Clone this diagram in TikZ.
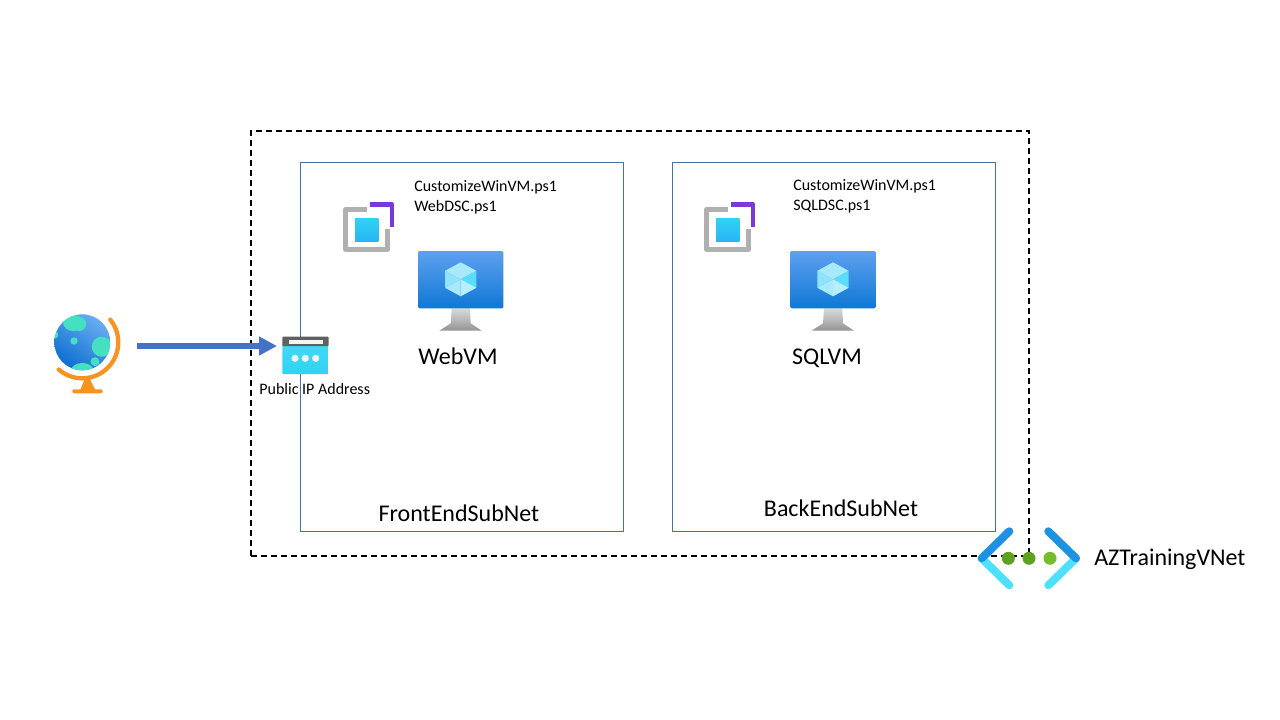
\documentclass[tikz,border=0pt]{standalone}
\usepackage{fontspec}
\setmainfont{Carlito}
\usetikzlibrary{arrows.meta, positioning}
\definecolor{subnetblue}{HTML}{4472A8}
\definecolor{arrowblue}{HTML}{4472C4}
\definecolor{globeorange}{HTML}{F7931E}
\definecolor{globetop}{HTML}{6AADF2}
\definecolor{globebottom}{HTML}{0F6FD0}
\definecolor{teal}{HTML}{45E0C2}
\definecolor{iconcyan}{HTML}{2FD3F3}
\definecolor{icongray}{HTML}{B0B0B0}
\definecolor{iconpurple}{HTML}{7A3AD8}
\definecolor{screentop}{HTML}{5EA0EF}
\definecolor{screenbottom}{HTML}{0F78D6}
\definecolor{cubetop}{HTML}{A8E9FB}
\definecolor{cuberight}{HTML}{58DDFF}
\definecolor{cubeleft}{HTML}{8FE4FB}
\definecolor{cubelow}{HTML}{B8EFFC}
\definecolor{vnetdark}{HTML}{1C92E2}
\definecolor{vnetlight}{HTML}{50E0FF}
\definecolor{dotdark}{HTML}{5EA121}
\definecolor{dotlight}{HTML}{76BC2D}
\tikzstyle{subnet}  = [rectangle, draw=subnetblue, line width=0.75pt, minimum width=242.25pt, minimum height=277pt, outer sep=0pt]
\tikzstyle{vnet}    = [rectangle, draw=black, line width=1.5pt, dashed, dash pattern=on 4.5pt off 3pt, minimum width=583.5pt, minimum height=318.75pt, outer sep=0pt]
\tikzstyle{iconbox} = [rectangle, inner sep=0pt, outer sep=0pt]
\tikzstyle{small}   = [inner sep=0pt, font=\fontsize{12}{14.4}\selectfont]
\tikzstyle{scripts} = [small, align=left, font=\fontsize{12}{15}\selectfont]
\tikzstyle{large}   = [inner sep=0pt, font=\fontsize{18}{21.6}\selectfont]
\tikzstyle{arrow}   = [-{Triangle[length=13.5pt, width=13.5pt]}, line width=4.5pt, arrowblue]
\tikzset{
  globeicon/.pic={
    \begin{scope}
      \clip (-5,-3.7) circle (28);
      \shade[top color=globetop, bottom color=globebottom, shading angle=-35] (-33,-32) rectangle (23,24);
      \fill[teal] (-14,-23) ellipse (10 and 8);
      \fill[teal] (-8,-22) circle (7);
      \fill[teal] (-33,-11) circle (4);
      \fill[teal] (-13.3,-5) circle (3.7);
      \fill[teal] (14.4,0.7) circle (10);
      \fill[teal] (7.7,15.7) circle (4.5);
      \fill[teal] (-5,24) ellipse (11 and 7);
    \end{scope}
    \draw[globeorange, line width=3.2pt, line cap=round] (-5,-3.7) ++(-39:36) arc[start angle=-39, end angle=131, radius=36];
    \fill[globeorange] (-2.3,32) -- (2,32) -- (8,44) -- (-7,44) -- cycle;
    \fill[globeorange, rounded corners=1.5pt] (-15,43.3) rectangle (15.4,47.3);
  },
  pipicon/.pic={
    \shade[top color=iconcyan!90!white, bottom color=iconcyan, rounded corners=0.6pt] (-23.2,-2) rectangle (23.2,28);
    \fill[gray!75!black, rounded corners=0.6pt] (-23.2,-9.3) rectangle (23.2,0);
    \fill[white!92!gray] (-16.8,-6) rectangle (17.2,-2);
    \foreach \dotx in {-10.5,-0.2,10.2}
      \fill[white!90!cyan] (\dotx,12.3) circle (3.6);
  },
  exticon/.pic={
    \draw[icongray, line width=3.5pt, line join=round] (24,9.6) -- (2.3,9.6) -- (2.3,49.4) -- (44.7,49.4) -- (44.7,29);
    \draw[iconpurple, line width=3.5pt, line join=round] (27,4.3) -- (49,4.3) -- (49,26.7);
    \shade[top color=iconcyan, bottom color=iconcyan!85!blue] (12,18.3) rectangle (35.3,41.7);
  },
  vmicon/.pic={
    \shade[top color=gray!30, bottom color=gray!85, middle color=gray!55] (-9,29) -- (9.3,29) -- (10,44) -- (21,51.4) -- (-21.4,51.4) -- (-10,44) -- cycle;
    \shade[top color=screentop, bottom color=screenbottom, rounded corners=1pt] (-42.7,-28.3) rectangle (42.6,29);
    \fill[cubetop] (0,-17) -- (15.7,-8.5) -- (0,0) -- (-15.7,-8.5) -- cycle;
    \fill[cuberight] (15.7,-8.5) -- (15.7,8.5) -- (0,0) -- cycle;
    \fill[cubelow] (15.7,8.5) -- (0,17) -- (0,0) -- cycle;
    \fill[cubetop] (-15.7,8.5) -- (0,17) -- (0,0) -- cycle;
    \fill[cubeleft] (-15.7,-8.5) -- (-15.7,8.5) -- (0,0) -- cycle;
  },
  vneticon/.pic={
    \draw[vnetlight, line width=6pt, line cap=round] (-27.6,0) -- (0,27);
    \draw[vnetdark, line width=6pt, line cap=round] (-27.6,0) -- (0,-27);
    \draw[vnetlight, line width=6pt, line cap=round] (66.7,0) -- (39,27);
    \draw[vnetdark, line width=6pt, line cap=round] (66.7,0) -- (39,-27);
    \fill[dotdark] (-1,0) circle (6.5);
    \fill[dotdark] (19.7,0) circle (6.5);
    \fill[dotlight] (40.7,0) circle (6.5);
  }
}
\begin{document}
\begin{tikzpicture}[x=0.75pt, y=-0.75pt]
    \useasboundingbox (0,0) rectangle (1280,720);

    % VNet and subnets
    \node (aznet) [vnet] at (640,343.5) {};
    \node (frontsub) [subnet] at (462,347.25) {};
    \node (backsub) [subnet, right=36.75pt of frontsub] {};

    % Icons
    \node (globe) [iconbox, minimum width=75pt, minimum height=30pt] at (87.3,346) {};
    \pic at (globe) {globeicon};
    \node (pip) [iconbox, minimum width=42.75pt, minimum height=15pt] at (305.5,346) {};
    \pic at (pip) {pipicon};
    \node (webext) [iconbox, minimum width=38pt, minimum height=37pt] at (368.3,226) {};
    \pic at (343,200) {exticon};
    \node (sqlext) [iconbox, minimum width=38pt, minimum height=37pt] at (729.3,226) {};
    \pic at (704,200) {exticon};
    \node (webvm) [iconbox, minimum width=64pt, minimum height=60pt] at (460.7,279.3) {};
    \pic at (webvm) {vmicon};
    \node (sqlvm) [iconbox, minimum width=64pt, minimum height=60pt] at (833,279.3) {};
    \pic at (sqlvm) {vmicon};
    \node (vneticn) [iconbox, minimum width=10pt, minimum height=10pt] at (1009.3,558.3) {};
    \pic at (vneticn) {vneticon};

    % Labels
    \node (piplabel) [small] at (314.7,389) {Public IP Address};
    \node (webscripts) [scripts, anchor=west] at (414,197) {CustomizeWinVM.ps1\\WebDSC.ps1};
    \node (sqlscripts) [scripts, anchor=west] at (793,196) {CustomizeWinVM.ps1\\SQLDSC.ps1};
    \node (webname) [large] at (458,356) {WebVM};
    \node (sqlname) [large] at (827,358) {SQLVM};
    \node (frontname) [large] at (459,513) {FrontEndSubNet};
    \node (backname) [large] at (841,508) {BackEndSubNet};
    \node (netname) [large, anchor=west] at (1094,559) {AZTrainingVNet};

    % Incoming traffic
    \draw[arrow] (globe) -- (pip);
\end{tikzpicture}
\end{document}
